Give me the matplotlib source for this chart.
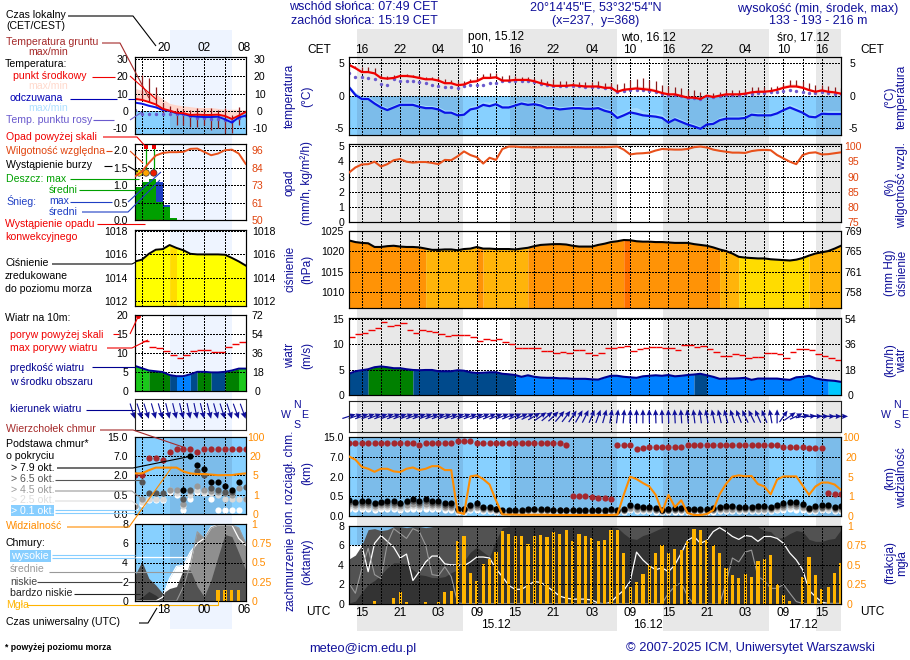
import numpy as np
import matplotlib
matplotlib.use("Agg")
import matplotlib.pyplot as plt
from matplotlib.patches import Rectangle

plt.rcParams['font.family'] = ['Liberation Sans', 'DejaVu Sans']

W, H = 910, 660
FS = 7.6
FB = 8.6
FH = 9.0
NAVY = '#10109a'
ORANGE = '#ff8c00'

# main meteogram, hourly from 14 CET
night_hours = [(1.25, 17.8), (25.15, 41.87), (49.2, 65.8), (73.1, 77)]
temp_mid = [4.7,4.2,3.6,3.6,3.4,2.7,2.6,2.7,3.0,3.0,2.9,2.7,2.5,2.5,2.3,1.9,1.9,1.6,1.7,2.1,2.2,2.7,2.7,2.8,2.3,2.3,2.4,2.4,2.4,2.2,1.9,1.7,1.5,1.5,1.5,1.6,1.5,1.4,1.4,1.4,1.2,
            1.2,0.6,0.9,1.0,1.1,1.0,0.9,0.7,0.4,0.2,0.2,-0.05,-0.3,-0.3,-0.5,0,-0.2,0,0.2,0.2,0.2,0.3,0.5,0.6,0.6,0.7,0.9,1.2,1.4,1.4,1.2,0.85,0.6,0.8,0.6,0.5,0.3]
temp_hi = [4.9,4.4,3.9,3.9,3.6,3.0,2.9,3.0,3.3,3.3,3.2,3.0,2.8,2.8,2.6,2.2,2.2,1.9,2.0,2.4,2.6,3.1,3.0,3.1,2.6,2.6,2.7,2.7,2.7,2.5,2.2,2.0,1.8,1.8,1.8,1.9,1.8,1.7,1.7,1.7,1.5,
           1.5,0.9,1.2,1.3,1.5,1.4,1.3,1.0,0.7,0.5,0.5,0.3,0,0,-0.2,0.3,0.1,0.3,0.5,0.5,0.5,0.6,0.8,0.9,0.9,1.0,1.2,1.6,1.8,1.8,1.5,1.1,0.9,1.1,0.9,0.8,0.6]
feels = [1.3,0.1,-0.5,-0.5,-1.2,-1.8,-2.2,-1.8,-1.4,-1.4,-1.4,-1.7,-1.9,-1.9,-2.1,-2.6,-2.6,-3.0,-2.9,-2.1,-1.9,-1.4,-1.6,-1.3,-1.8,-1.8,-1.5,-1.2,-1.4,-1.3,-1.5,-1.9,-1.9,-2.1,-2.0,-1.9,-1.9,-2.0,-2.0,-1.9,-2.3,
         -2.55,-3.4,-3.0,-2.55,-2.75,-3.0,-3.1,-3.2,-3.4,-4.1,-3.6,-4.0,-4.4,-4.7,-5.05,-4.4,-4.3,-3.75,-3.5,-3.5,-3.5,-3.4,-2.9,-3.0,-3.0,-3.0,-2.7,-2.2,-1.8,-2.2,-2.6,-3.2,-3.3,-2.75,-2.8,-2.8,-2.8]
feels_hi = [1.6,0.5,-0.1,-0.1,-0.8,-1.4,-1.8,-1.4,-1.0,-1.0,-1.0,-1.3,-1.5,-1.5,-1.7,-2.2,-2.2,-2.6,-2.5,-1.6,-1.4,-0.9,-1.0,-0.8,-1.4,-1.4,-1.1,-0.8,-1.0,-0.9,-1.1,-1.5,-1.5,-1.7,-1.6,-1.5,-1.5,-1.6,-1.6,-1.5,-1.9,
            -2.1,-2.9,-2.5,-1.9,-1.8,-2.3,-2.6,-2.7,-2.9,-3.7,-3.2,-3.6,-4.0,-4.3,-4.7,-4.0,-3.9,-3.3,-3.1,-3.1,-3.1,-3.0,-2.5,-2.6,-2.6,-2.6,-2.3,-1.8,-1.3,-1.7,-2.2,-2.8,-2.9,-2.3,-2.3,-2.3,-2.3]
dew = [3.45,2.9,2.8,2.7,2.6,1.8,1.7,2.5,2.3,2.3,2.2,2.1,1.9,1.7,1.5,1.3,1.3,1.2,1.4,1.6,1.7,1.7,1.9,1.9,2.2,2.2,2.3,2.3,2.3,2.1,1.8,1.6,1.4,1.4,1.4,1.5,1.4,1.3,1.3,1.3,1.1,
       1.1,0.5,0.7,0.8,0.9,0.8,0.7,0.5,0.3,0.1,0.1,-0.1,-0.3,-0.4,-0.5,-0.1,-0.2,-0.1,0.1,0.1,0.1,0.2,0.3,0.4,0.4,0.5,0.6,0.7,0.8,0.7,0.6,0.4,0.4,0.5,0.4,0.3,0.2]
soil_max = [4.9,4.5,4.4,4.3,4.2,3.2,3.0,3.2,3.3,3.3,3.2,3.1,2.9,2.9,2.8,2.6,2.4,2.2,2.2,2.6,2.8,3.3,3.5,3.5,3.0,3.1,3.0,2.9,2.9,2.7,2.6,2.3,2.5,2.2,2.2,2.1,2.1,2.1,2.1,2.2,1.9,
            2.0,1.8,2.0,2.4,2.6,2.7,2.4,2.3,1.7,1.4,1.3,1.2,0.9,0.8,0.5,0.1,0.4,0.5,0.8,0.8,0.8,1.0,1.3,1.3,1.3,1.3,1.5,2.0,2.4,2.4,2.2,1.9,1.7,1.7,1.5,1.3,1.1]
humidity = [91.3,93,94,94.1,94.9,93.3,94.1,95.4,95.8,94.9,94.6,94.8,94.8,94.5,94.1,95.5,95.4,96.7,98.3,97.1,96.4,94.3,96.2,95.5,99.1,99.9,99.9,99.7,99.7,99.6,99.7,99.7,99.7,99.7,99.7,99.7,99.7,99.7,99.7,99.7,99.7,
            99.8,99.9,98.9,97.3,97.6,97.7,97.9,98.6,99.1,99,98.9,98.9,99.1,99.7,99.9,99.6,98.9,98.5,98.2,97.9,97.9,97.8,98.4,98.7,98.8,98.7,97.1,96,94.9,94.1,97.1,97.8,98,97.3,97.4,97.7,98]
pressure = [1022.6,1022.2,1022.0,1021.9,1021.0,1021.0,1021.2,1021.3,1021.1,1021.0,1021.0,1020.9,1020.6,1020.3,1020.3,1020.4,1020.4,1020.2,1020.5,1020.6,1021.0,1020.6,1020.6,1020.5,1020.5,1020.5,1020.4,1020.6,1020.8,1021.2,1021.5,1021.6,1021.7,1021.7,1021.6,1021.3,1021.1,1021.1,1021.1,1021.5,1021.8,
            1022.2,1022.4,1022.7,1022.65,1022.4,1022.3,1022.3,1022.2,1022.2,1022.1,1022,1022,1022,1021.7,1021.5,1021.3,1020.9,1020.4,1020,1019.4,1018.6,1018.4,1018.3,1018.2,1018.2,1018,1017.9,1017.8,1017.7,1017.9,1018.3,1018.9,1019.4,1019.7,1020,1020.6,1021.3]
wind = [4.2,4.7,4.9,5.1,5.5,5.65,5.5,5.3,5.3,5.1,4.95,4.9,4.95,4.95,4.7,4.7,4.7,4.9,4.8,4.5,4.35,4.4,4.5,4.5,4.2,4.1,3.95,3.6,3.9,3.6,3.45,3.4,3.4,3.3,3.3,3.2,3.2,3.2,3.1,3.05,3.45,
        3.8,3.8,3.6,3.5,3.4,3.7,3.8,3.9,3.8,3.95,3.7,3.8,3.95,4.05,4.2,3.9,3.6,3.2,3.25,3.25,3.3,3.4,3.0,3.25,3.25,3.25,3.25,3.1,3.0,3.5,3.6,3.8,3.3,3.05,2.9,2.8,2.6]
gust = [11.4,12,12.2,12.9,13.2,14.4,13.6,13.9,14.2,12.8,12.2,12.9,12.7,12.4,12.1,11.6,11.8,11.9,11.9,11.4,10.7,11,10.8,11,10.4,10,9.4,9.4,9.3,9.3,8.7,8.7,8.25,8.5,8.3,8.9,8.9,8.4,8,8.4,9.3,
        9.35,9.5,9.75,8.7,9.1,9.35,9.5,9.5,9.3,9.3,8.9,9.9,9.9,9.5,9.75,9.1,8.6,7.65,7.8,8.2,8,7.3,7.5,7.55,8.4,8.4,8.2,7.35,8.5,9.1,9.1,9,8.1,7.7,7.3,7,6.9]
wind_dir = [18,18,20,20,20,20,20,20,20,20,20,20,20,20,20,20,20,20,20,20,20,22,22,22,22,22,24,24,26,30,35,40,44,50,53,56,60,64,67,70,74,
            80,83,85,88,90,90,91,92,92,92,93,94,95,97,98,100,102,104,105,108,112,115,116,114,112,100,90,55,35,25,12,5,2,0,0,0,0]
cloud_top = [12.6,12.6,12.6,12.6,12.6,12.6,12.6,12.6,12.6,12.6,12.6,11.9,12.6,12.6,12.6,12.6,12.6,13.3,13.3,13.3,12.6,12.6,12.6,12.6,12.6,12.6,12.6,12.6,12.6,12.6,12.6,12.6,12.6,12.6,12.0,0.55,0.52,0.50,0.49,0.47,0.45,
             0.44,11.8,11.8,11.8,10.3,10.7,11.1,11.1,11.1,11,11,11,11.8,11.8,11.8,11.8,11.8,11.8,11.8,11.8,11.8,11.8,11.8,11.8,11.8,11.8,11.8,11.1,11.1,11.1,11.1,10.7,10.7,10.7,0.72,0.71,0.69]
base_79 = [.40,.36,.38,.38,.34,.36,.38,.38,.34,.39,.42,.39,.42,.38,.38,.32,.32,.19,.19,.28,.32,.24,.22,.19,.14,.14,.14,.14,.17,.19,.17,.17,.15,.15,.15,.15,.14,.14,.14,.15,.14,
           .17,.14,.17,.28,.25,.24,.22,.20,.15,.17,.20,.20,.17,.17,.17,.17,.20,.22,.25,.25,.24,.22,.24,.25,.25,.22,.29,.32,.36,.35,.31,.21,.25,.27,.29,.22,.25]
base_65 = [.36,.32,.34,.34,.30,.32,.34,.34,.30,.35,.37,.34,.37,.34,.34,.29,.29,.17,.17,.25,.28,.21,.20,.17,.13,.13,.13,.13,.15,.17,.15,.15,.14,.14,.14,.14,.13,.13,.13,.14,.13,
           .15,.13,.15,.25,.22,.21,.20,.18,.14,.15,.18,.18,.15,.15,.15,.15,.18,.20,.22,.22,.21,.20,.21,.22,.22,.20,.26,.28,.32,.31,.27,.19,.22,.24,.26,.20,.22]
base_45 = [.30,.27,.28,.28,.25,.27,.28,.28,.25,.29,.31,.29,.31,.28,.28,.24,.24,.15,.15,.21,.24,.18,.17,.15,.12,.12,.12,.12,.14,.15,.14,.14,.13,.13,.13,.13,.12,.12,.12,.13,.12,
           .14,.12,.14,.21,.19,.18,.17,.16,.13,.14,.16,.16,.14,.14,.14,.14,.16,.17,.19,.19,.18,.17,.18,.19,.19,.17,.22,.24,.27,.26,.23,.17,.19,.21,.22,.17,.19]
base_25 = [.25,.23,.24,.24,.21,.23,.24,.24,.21,.24,.26,.24,.26,.24,.24,.20,.20,.13,.13,.18,.20,.16,.15,.13,.11,.11,.11,.11,.12,.13,.12,.12,.12,.12,.12,.12,.11,.11,.11,.12,.11,
           .12,.11,.12,.18,.16,.16,.15,.14,.12,.12,.14,.14,.12,.12,.12,.12,.14,.15,.16,.16,.16,.15,.16,.16,.16,.15,.19,.20,.23,.22,.20,.15,.16,.18,.19,.15,.16]
base_01 = [.18,.17,.17,.17,.16,.17,.17,.17,.16,.18,.19,.18,.19,.17,.17,.15,.15,.11,.11,.14,.15,.12,.12,.11,.10,.10,.10,.10,.11,.11,.11,.11,.10,.10,.10,.10,.10,.10,.10,.10,.10,
           .11,.10,.11,.14,.13,.12,.12,.11,.10,.11,.11,.11,.11,.11,.11,.11,.11,.12,.13,.13,.12,.12,.12,.13,.13,.12,.14,.15,.17,.16,.15,.12,.13,.14,.14,.12,.13]
visibility = [22,18,12.5,11,8.7,11,11,9,8.5,11,12,10,11,13,13,10,10,.2,.1,5.2,6,4.5,3.4,.8,.08,.07,.07,.06,.06,.06,.06,.06,.05,.05,.05,.05,.05,.05,.05,.05,.05,
              .05,.07,1.3,5,4.5,3.7,3,1.3,.2,1.3,.45,.8,.15,.05,.05,.1,.3,1.4,3.5,5,6,5.3,5.5,3.5,3,1.4,4.4,5.2,5.2,5.2,3.2,1.3,3,3.8,3.8,3.4,2.3]
cloud_high = [6,5.9,6,3.3,6.2,7,6.4,5.8,4.7,5.1,2.4,3.3,4.3,4.9,4.9,4.1,4,4,3.9,4.3,4.8,4.8,4.7,3.6,2.8,1.9,1.5,1.5,1.9,2.3,2.2,1.8,1.3,.8,.6,.5,.5,.5,.4,.1,0,
              .2,.85,1.4,2.3,5.3,4.5,3.9,3.5,3.7,3.3,4,5.2,6.5,6.9,6.2,6.5,7.4,7.8,7.4,6.9,6.6,7,6.9,6.4,6.9,6.9,6.7,6.2,5.2,4.5,3.5,1.4,.75,.2,.05,.05,.05]
cloud_mid = [2.1,1.1,3.6,5.7,3,2.6,6.2,7.7,7.2,6.7,7.7,7.4,6,3,2.9,3.8,2.8,.1,.05,
             .05,.05,.05,.05,.05,.05,.05,.05,.05,.05,.05,.05,.05,.05,.05,.05,.05,.05,.05,.05,.05,.05,.05,.05,.05,.05,.05,.05,.05,.05,.05,
             1.1,1.8,2.2,.75,0,0,0,0,0,2.1,4.7,4.3,5.3,5.5,2.8,2.4,1.6,1.6,2,1.1,.25,.05,.05,.05,.05,.05,.05,.05]
cloud_low = [4.6,5,6,7.6,7.7,7.5,7.6,7.9,7.9,7.8,7.9,7.9,7.8,7.9,
             8,8,8,8,8,8,8,8,8,8,8,8,8,8,8,8,8,8,8,8,8,8,8,8,8,8,8,8,8,8,8,8,8,8,8,8,8,8,8,8,8,8,8,8,8,8,8,8,8,8,8,8,8,8,8,8,8,8,8,8,8,8,8,8]
cloud_vlow = [.1,.3,1.2,2,2.4,3,3.7,4.2,4.2,4.1,3.5,3,2.9,2.7,2.7,2.8,3.2,3.5,4.4,5.3,5.8,5.3,4.8,6.5,7.8,7.9,
              7.9,7.9,7.9,7.9,7.9,7.9,7.9,7.9,7.9,7.9,7.9,7.9,7.9,7.9,7.9,
              7.9,7.8,7.2,6.7,6.6,7,7.2,7.5,7.8,7.9,
              7.9,7.9,7.9,7.9,7.9,7.9,7.9,7.9,7.9,7.9,7.9,7.9,7.9,7.9,
              7.5,7.4,6.7,6.8,7.2,7.5,7.4,6.6,6.4,6.4,6.6,6.7,7.6]
fog = [0,0,0,0,.04,0,0,.08,.15,.02,0,0,.02,0,.03,.15,.17,.8,.87,.4,.29,.51,.57,.67,.93,.9,.87,.87,.76,.87,.88,.86,.92,.9,.94,.81,.9,.87,.84,.81,.82,
       .95,.94,.65,.22,.28,.38,.5,.65,.75,.65,.7,.69,.8,.96,.95,.82,.75,.65,.46,.37,.33,.38,.34,.55,.57,.62,.25,.12,.04,0,.34,.6,.37,.19,.22,.4,.53]

# small panel, hourly from 16 CET
s_night = [(5.07, 14.0)]
s_temp = [7,6.4,5.2,3.8,1.3,.2,-1,-1.3,-2.3,-2.1,-2.3,-2.3,-2.1,-2.9,-4.6,-2.7,-.6]
s_temp_hi = [13,12,11,10,7,4.4,3.5,3,2.5,2,2,2,1.5,1,1,1,.6]
s_feels = [4.8,4.2,3,2.1,.6,0,-1.3,-1.7,-2.9,-3.3,-3.5,-3.5,-3.3,-4.8,-6.7,-3.7,-2.7]
s_feels_hi = [5.5,5,4,3,1.5,.5,-.6,-1,-2,-2.4,-2.6,-2.6,-2.3,-3.8,-5.5,-2.8,-1.8]
s_dew = [.5,-1.5,-1.5,-1.5,-1.5,-1.5,-2,-2,-3,-4,-4,-4.5,-4.5,-5,-6,-4,-3]
s_soil_max = [7.5,20.7,18.8,13.6,4.4,2.9,2,1,.5,1.5,1,1.5,.5,1.5,-2.5,2.5,.5]
s_soil_min = [6,7,5,3,-1,-1,-8,-8,-9,-9,-8,-11,-10,-13,-13,-8,-3]
s_humidity = [78.7,82,87.6,92.5,94.2,94.7,94.7,94.9,96.9,97.1,94.9,92.7,93.8,96,96.4,93.8,87]
s_rain = [.96,1.1,1.18,.53,.38,.07,0,0,0,0,0,0,0,0,0,0]
s_snow = [0,0,0,1.1,.43,0,0,0,0,0,0,0,0,0,0,0]
s_storm_t = [.6,1.6,2.7]
s_storm_c = ['#ffee00', '#ffa500', '#ee1c00']
s_over_t = [1.6,2.7]
s_pressure = [1015.4,1015.55,1016.05,1016.4,1016.45,1016.8,1016.55,1016.35,1016.05,1016,1016,1016,1016,1015.97,1015.7,1015.4,1015.05]
s_wind = [6.6,6,5.4,5.2,5,4.2,3.9,3.9,4.4,5.05,5.05,4.9,4.9,5.05,5.4,5.9,5.9]
s_gust = [np.nan,13.2,11.5,11.2,10.4,9.5,8.6,9.6,10.4,10.7,10.7,10.3,10.3,11.5,12.5,12.8,12.8]
s_dir = [-72,-72,-72,-74,-74,-76,-76,-76,-78,-78,-76,-76,-74,-72,-72,-70,-70]
s_top = [2,2,6.4,6.4,5.9,8.8,9.8,9.8,9.8,8.8,9.8,9.8,9.8,9.8,9.8,9.8,9.8]
s_b79 = [np.nan,np.nan,np.nan,np.nan,np.nan,np.nan,np.nan,.9,7,4.8,3.7,1.5,1.5,1.2,.9,1.5,np.nan]
s_b65 = [np.nan,1.5,.65,.65,.65,np.nan,np.nan,.4,.9,3.2,2.2,1.0,.9,.7,.7,np.nan,1.1]
s_b45 = [.2,.4,np.nan,np.nan,np.nan,.9,.9,.25,.8,1.2,.9,.8,.7,.6,.5,1,.4]
s_b25 = [.2,.3,.4,.4,.4,.9,.6,.2,.5,.9,.7,.6,.5,.4,.4,.4,.4]
s_b01 = [.15,.25,.35,.35,.35,.7,.5,.1,.4,.7,.6,.4,.1,.1,.1,.1,np.nan]
s_vis = [6.5,6.5,9,11,11,11,11,8,6.5,6,6,5.6,5.1,5.2,5.2,6,6.5]
s_high = [0,0,0,0,.4,2.35,3.6,3.7,5.1,6,6.5,7.7,7.9,7.9,7.9,6.5,5.8]
s_mid = [0,0,0,0,0,0,0,1.5,3.8,7.2,6.5,7.6,7.9,7.9,7.9,7.6,6]
s_low = [2.7,4.1,2.35,1.66,.8,1.3,1.5,3.3,3.2,1.5,.45,2.2,4.6,6.9,6.7,5,3.2]
s_vlow = [.1,.4,1,.6,0,0,0,0,0,0,0,0,0,0,0,0,0]
s_fog = [0,0,0,0,0,0,0,0,0,0,0,0,.14,.14,.14,.14,0]

hour_labels_cet = ['16','22','04','10','16','22','04','10','16','22','04','10','16']
hour_labels_utc = ['15','21','03','09','15','21','03','09','15','21','03','09','15']

pressure_levels = [1016.6, 1018.7, 1020.7, 1022.68]
pressure_colors = ['#ffff00', '#ffdc00', '#ffb40a', '#ff9306', '#ff7000']
wind_levels = [3.0, 4.0, 5.0, 5.9]
wind_colors = ['#00c8ff', '#0080ff', '#004a8c', '#008000', '#1ac81a']

fig = plt.figure(figsize=(W / 100, H / 100), dpi=100)


def px_axes(x0, y0, x1, y1, **kw):
    return fig.add_axes([x0 / W, 1 - y1 / H, (x1 - x0) / W, (y1 - y0) / H], facecolor='none', **kw)


def setup_panel(ax, n, ylim, yticks, ylabels, major, minor, ypad=7):
    ax.set_xlim(0, n)
    ax.set_ylim(*ylim)
    ax.set_xticks(major)
    ax.set_xticks(minor, minor=True)
    ax.set_xticklabels([])
    ax.set_yticks(yticks)
    ax.set_yticklabels(ylabels, fontsize=FS)
    ax.tick_params(which='both', length=0)
    ax.tick_params(axis='y', pad=ypad * 0.72)
    ax.grid(True, axis='x', which='both', color='black', lw=0.72, ls=(0, (2, 2)), zorder=2, antialiased=False)
    ax.grid(True, axis='y', which='major', color='black', lw=0.72, ls=(0, (2, 2)), zorder=2, antialiased=False)
    ax.set_axisbelow(False)
    for sp in ax.spines.values():
        sp.set_linewidth(0.8)
        sp.set_color('#222222')
        sp.set_zorder(6)


def right_scale(ax, ticks, labels, color='black', pad=5, ha='left', ylim=None):
    tw = ax.twinx()
    tw.set_ylim(*(ylim if ylim else ax.get_ylim()))
    tw.set_yticks(ticks)
    tw.set_yticklabels(labels, color=color, fontsize=FS, ha=ha)
    tw.tick_params(length=0, pad=pad * 0.72)
    return tw


def paint_sky(ax, t, nights, y0, y1):
    ax.fill_between([t[0], t[-1]], y0, y1, color='#87d0ff', lw=0, zorder=0.5)
    for a, b in nights:
        ax.fill_between([a, b], y0, y1, color='#7cbcea', lw=0, zorder=0.6)


def step_fill(ax, t, vals, bottom, levels, colors):
    # one polygon per run of equal colour, so no seams between hours
    idx = np.digitize(vals, levels)
    start = 0
    for i in range(1, len(t)):
        if i == len(t) - 1 or idx[i] != idx[start]:
            ax.fill_between(t[start:i + 1], vals[start:i + 1], bottom, color=colors[idx[start]],
                            lw=0, antialiased=False, zorder=1)
            start = i


def plot_temp(ax, t, nights, mid, hi, fl, fl_hi, dw, soil_lo, soil_hi, lw=1.6):
    paint_sky(ax, t, nights, ax.get_ylim()[0], 0)
    ax.fill_between(t, mid, hi, color='#ffd6cc', lw=0, zorder=1)
    ax.fill_between(t, fl, fl_hi, color='#a4dcff', lw=0, zorder=1)
    ax.vlines(t, soil_lo, soil_hi, color='#8b1a1a', lw=0.9, zorder=3)
    ax.scatter(t, dw, s=6, color='#6a5acd', marker='o', lw=0, zorder=3)
    ax.plot(t, fl, color='#0a14e6', lw=lw, zorder=4)
    ax.plot(t, mid, color='#f00000', lw=lw, zorder=4)


km_fwd = lambda v: np.interp(v, [0, .5, 2, 7, 15], [0, 1, 2, 3, 4])
km_inv = lambda v: np.interp(v, [0, 1, 2, 3, 4], [0, .5, 2, 7, 15])
vis_fwd = lambda v: np.interp(v, [0, 1, 5, 20, 100], [0, 1, 2, 3, 4])
vis_inv = lambda v: np.interp(v, [0, 1, 2, 3, 4], [0, 1, 5, 20, 100])


def plot_base(ax, t, nights, top, b79, b65, b45, b25, b01, vis, size):
    ax.set_yscale('function', functions=(km_fwd, km_inv))
    ax.set_ylim(0, 15)
    ax.set_yticks([0, .5, 2, 7, 15])
    ax.set_yticklabels(['0.0', '0.5', '2.0', '7.0', '15.0'], fontsize=FS)
    ax.grid(False, axis='y', which='minor')
    paint_sky(ax, t, nights, 0, 15)
    ax.scatter(t, top, s=size, color='#a5282e', lw=0, zorder=3)
    for vals, c in zip([b01, b25, b45, b65, b79], ['white', '#d8d8d8', '#999999', '#555555', 'black']):
        ax.scatter(t, vals, s=size, color=c, lw=0, zorder=3)
    tw = ax.twinx()
    tw.set_yscale('function', functions=(vis_fwd, vis_inv))
    tw.set_ylim(0, 100)
    tw.set_yticks([0, 1, 5, 20, 100])
    tw.set_yticklabels(['0', '1', '5', '20', '100'], color=ORANGE, fontsize=FS, ha='center')
    tw.tick_params(length=0, pad=10 * 0.72)
    tw.plot(t, vis, color=ORANGE, lw=1.5, zorder=4)


def plot_clouds(ax, t, nights, high, mid, low, vlow, fg, bar_w):
    paint_sky(ax, t, nights, 0, 8)
    for vals, c in zip([high, mid, low, vlow], ['white', '#8f8f8f', '#525252', '#333333']):
        ax.fill_between(t, vals, 0, color=c, lw=0, zorder=1)
    ax.plot(t, high, color='white', lw=0.9, zorder=1.5)
    ax.plot(t, mid, color='#999999', lw=0.8, zorder=1.5)
    ax.bar(t, np.array(fg) * 8, width=bar_w, color='#ffb400', zorder=1.8)


# ---- night bands behind the panels
bg = px_axes(349, 29, 841, 631)
bg.set_xlim(0, 77)
bg.axis('off')
for a, b in night_hours:
    bg.axvspan(a, b, color='#e8e8e8', lw=0)
bg2 = px_axes(135, 30, 245.7, 629)
bg2.set_xlim(0, 16)
bg2.axis('off')
for a, b in s_night:
    bg2.axvspan(a, b, color='#eef4ff', lw=0)

# ---- main column
t = np.arange(78)
mj = np.arange(2, 78, 6)
mn = np.arange(5, 78, 6)
mx = (349, 841)

ax = px_axes(mx[0], 57, mx[1], 135)
setup_panel(ax, 77, (-6, 5.9), [-5, 0, 5], ['-5', '0', '5'], mj, mn, ypad=5)
plot_temp(ax, t, night_hours, temp_mid, temp_hi, feels, feels_hi, dew, temp_mid, soil_max)
ax.xaxis.tick_top()
ax.set_xticklabels(hour_labels_cet, fontsize=FB)
ax.tick_params(axis='x', which='major', pad=0.5)
right_scale(ax, [-5, 0, 5], ['-5', '0', '5'], pad=12, ha='center')

ax = px_axes(mx[0], 144, mx[1], 222)
setup_panel(ax, 77, (0, 5.15), range(6), ['0', '1', '2', '3', '4', '5'], mj, mn, ypad=5)
tw = right_scale(ax, [75, 80, 85, 90, 95, 100], ['75', '80', '85', '90', '95', '100'],
                 color='#e0440e', pad=12, ha='center', ylim=(75, 100.75))
tw.plot(t, humidity, color='#e8501a', lw=1.5, zorder=4)

ax = px_axes(mx[0], 230.6, mx[1], 308)
setup_panel(ax, 77, (1006.1, 1025), [1010, 1015, 1020, 1025], ['1010', '1015', '1020', '1025'], mj, mn, ypad=5)
step_fill(ax, t, pressure, 1006.1, pressure_levels, pressure_colors)
ax.plot(t, pressure, color='black', lw=1.5, zorder=4)
right_scale(ax, [1010, 1015, 1020, 1025], ['758', '761', '765', '769'], pad=12, ha='center')

ax = px_axes(mx[0], 317.7, mx[1], 395)
setup_panel(ax, 77, (0, 15.3), [0, 5, 10, 15], ['0', '5', '10', '15'], mj, mn, ypad=5)
step_fill(ax, t, wind, 0, wind_levels, wind_colors)
ax.plot(t, wind, color='#000090', lw=1.5, zorder=4)
ax.hlines(gust, t, t + 1, color='#f00000', lw=1, zorder=4)
right_scale(ax, [0, 5, 10, 15], ['0', '18', '36', '54'], pad=9, ha='center')

ax = px_axes(mx[0], 401, mx[1], 431.7)
setup_panel(ax, 77, (0, 1), [], [], mj, mn)
ang = np.deg2rad(wind_dir)
q = ax.quiver(t, np.full(78, 0.5), 14 * np.cos(ang), 14 * np.sin(ang), angles='uv', scale=1, scale_units='dots',
              pivot='mid', units='dots', width=1.2, headwidth=4.5, headlength=5, headaxislength=4.5,
              color='#10109a', zorder=4)
q.set_clip_on(False)

ax = px_axes(mx[0], 437.3, mx[1], 516)
setup_panel(ax, 77, (0, 15), [], [], mj, mn, ypad=5)
plot_base(ax, t, night_hours, cloud_top, base_79, base_65, base_45, base_25, base_01, visibility, 20)

ax = px_axes(mx[0], 525.7, mx[1], 604)
setup_panel(ax, 77, (0, 8), [0, 2, 4, 6, 8], ['0', '2', '4', '6', '8'], mj, mn, ypad=5)
plot_clouds(ax, t, night_hours, cloud_high, cloud_mid, cloud_low, cloud_vlow, fog, 0.5)
ax.set_xticklabels(hour_labels_utc, fontsize=FB)
ax.tick_params(axis='x', which='major', pad=2)
right_scale(ax, [0, 2, 4, 6, 8], ['0', '0.25', '0.5', '0.75', '1'], color=ORANGE, pad=6)

# ---- small column
st = np.arange(17)
smj = [1, 4, 7, 10, 13, 16]
sx = (135, 245.7)
smn = []

ax = px_axes(sx[0], 57, sx[1], 134)
setup_panel(ax, 16, (-13.3, 31.2), [-10, 0, 10, 20, 30], ['-10', '0', '10', '20', '30'], smj, smn)
plot_temp(ax, st, s_night, s_temp, s_temp_hi, s_feels, s_feels_hi, s_dew, s_soil_min, s_soil_max, lw=1.4)
right_scale(ax, [-10, 0, 10, 20, 30], ['-10', '0', '10', '20', '30'], pad=14, ha='center')

ax = px_axes(sx[0], 144, sx[1], 220)
setup_panel(ax, 16, (0, 2.18), [0, .5, 1, 1.5, 2], ['0.0', '0.5', '1.0', '1.5', '2.0'], smj, smn)
ax.bar(st[:-1], s_snow, width=1, align='edge', color='#1f3fc4', zorder=1)
ax.bar(st[:-1], s_rain, width=1, align='edge', color='#00a000', zorder=1.2)
ax.vlines(s_over_t, 1.35, 2.1, color='#00a000', lw=0.9, zorder=3)
ax.scatter(s_storm_t, [1.35, 1.35, 1.35], s=22, color=s_storm_c, edgecolor='#333333', lw=0.5, zorder=4)
ax.scatter(s_over_t, [2.1, 2.1], s=9, marker='s', color='#ee0000', lw=0, zorder=4)
ax.hlines([0.01], 0.2, 4.2, color='#ee0000', lw=1, ls=(0, (2, 2)), zorder=3)
tw = right_scale(ax, [50, 61.5, 73, 84.5, 96], ['50', '61', '73', '84', '96'], color='#e0440e',
                 pad=12, ha='center', ylim=(50, 100.1))
tw.plot(st, s_humidity, color='#e8501a', lw=1.4, zorder=4)

ax = px_axes(sx[0], 230, sx[1], 306)
setup_panel(ax, 16, (1011.6, 1018.08), [1012, 1014, 1016, 1018], ['1012', '1014', '1016', '1018'], smj, smn)
step_fill(ax, st, s_pressure, 1011.6, pressure_levels, pressure_colors)
ax.plot(st, s_pressure, color='black', lw=1.4, zorder=4)
right_scale(ax, [1012, 1014, 1016, 1018], ['1012', '1014', '1016', '1018'], pad=18, ha='center')

ax = px_axes(sx[0], 315, sx[1], 391)
setup_panel(ax, 16, (0, 20), [0, 5, 10, 15, 20], ['0', '5', '10', '15', '20'], smj, smn)
step_fill(ax, st, s_wind, 0, wind_levels, wind_colors)
ax.plot(st, s_wind, color='#000090', lw=1.4, zorder=4)
ax.hlines(s_gust, st, st + 1, color='#f00000', lw=1, zorder=4)
ax.plot([0.5], [19.7], 'o', ms=2.5, color='#f00000', zorder=4)
right_scale(ax, [0, 5, 10, 15, 20], ['0', '18', '36', '54', '72'], pad=12, ha='center')

ax = px_axes(sx[0], 398.7, sx[1], 430)
setup_panel(ax, 16, (0, 1), [], [], smj, smn)
ang = np.deg2rad(s_dir)
q = ax.quiver(st, np.full(17, 0.36), 16 * np.cos(ang), 16 * np.sin(ang), angles='uv', scale=1, scale_units='dots',
              pivot='tip', units='dots', width=1.1, headwidth=5.5, headlength=6, headaxislength=5.5,
              color='#10109a', zorder=4)
q.set_clip_on(False)

ax = px_axes(sx[0], 436.7, sx[1], 514)
setup_panel(ax, 16, (0, 15), [], [], smj, smn)
plot_base(ax, st, s_night, s_top, s_b79, s_b65, s_b45, s_b25, s_b01, s_vis, 20)

ax = px_axes(sx[0], 524, sx[1], 601)
setup_panel(ax, 16, (0, 8), [0, 2, 4, 6, 8], ['0', '2', '4', '6', '8'], smj, smn)
plot_clouds(ax, st, s_night, s_high, s_mid, s_low, s_vlow, s_fog, 0.45)
right_scale(ax, [0, 2, 4, 6, 8], ['0', '0.25', '0.5', '0.75', '1'], color=ORANGE, pad=6)

# ---- texts and leader lines, pixel coordinates
ov = fig.add_axes([0, 0, 1, 1], facecolor='none', zorder=20)
ov.set_xlim(0, W)
ov.set_ylim(H, 0)
ov.axis('off')


def txt(x, y, s, c='black', size=FS, ha='left', **kw):
    ov.text(x, y, s, color=c, fontsize=size, ha=ha, va='center', **kw)


def vtxt(x, y, s, c=NAVY):
    ov.text(x, y, s, color=c, fontsize=FB, ha='center', va='center', rotation=90)


def lead(xs, ys, c='black', lw=0.8):
    ov.plot(xs, ys, color=c, lw=lw, solid_capstyle='butt')


BROWN = '#a52a2a'
RED = '#f00000'
DRED = '#e0440e'
GRN = '#00a000'
SBLUE = '#1f3fc4'
SKY = '#87ceff'
SLATE = '#6a5acd'
DBLUE = '#0000b4'

txt(6, 15, 'Czas lokalny'); txt(6, 26, '(CET/CEST)')
txt(6, 42, 'Temperatura gruntu', BROWN); txt(28, 52, 'max/min', BROWN)
txt(5, 64, 'Temperatura:'); txt(13, 76, 'punkt środkowy', RED)
txt(28, 86, 'max/min', '#ffd9cc'); txt(10, 98, 'odczuwana', DBLUE)
txt(28, 108, 'max/min', '#aee0ff'); txt(6, 120, 'Temp. punktu rosy', SLATE)
txt(6, 137, 'Opad powyżej skali', RED); txt(6, 151, 'Wilgotność względna', DRED)
txt(6, 165, 'Wystąpienie burzy'); txt(6, 179, 'Deszcz: max', GRN); txt(49, 190, 'średni', GRN)
txt(6, 201, 'Śnieg:', SBLUE); txt(49, 201, 'max', SBLUE); txt(49, 212, 'średni', SBLUE)
txt(5, 224, 'Wystąpienie opadu', RED); txt(5, 237, 'konwekcyjnego', RED)
txt(5, 263, 'Ciśnienie'); txt(5, 276, 'zredukowane'); txt(5, 289, 'do poziomu morza')
txt(5, 318, 'Wiatr na 10m:')
txt(10, 335, 'poryw powyżej skali', RED); txt(10, 348, 'max porywy wiatru', RED)
txt(10, 368, 'prędkość wiatru', '#000090'); txt(10, 382, 'w środku obszaru', '#000090')
txt(10, 409, 'kierunek wiatru', '#000090'); txt(6, 429, 'Wierzchołek chmur', BROWN)
txt(6, 444, 'Podstawa chmur*'); txt(6, 456, 'o pokryciu'); txt(11, 468, '> 7.9 okt.')
txt(11, 479, '> 6.5 okt.', '#555555'); txt(11, 490, '> 4.5 okt.', '#999999')
txt(11, 500, '> 2.5 okt.', '#dddddd')
ov.add_patch(Rectangle((11, 505), 43, 11, color=SKY, lw=0))
txt(11, 511, '> 0.1 okt.', 'white')
txt(6, 526, 'Widzialność', ORANGE); txt(6, 543, 'Chmury:')
ov.add_patch(Rectangle((10, 550), 41, 12, color=SKY, lw=0))
txt(11, 556, 'wysokie', 'white'); txt(10, 569, 'średnie', '#999999')
txt(10, 582, 'niskie', '#444444'); txt(10, 593, 'bardzo niskie', '#222222')
txt(6, 605, 'Mgła', '#ffb400'); txt(6, 622, 'Czas uniwersalny (UTC)')
txt(5, 648, '* powyżej poziomu morza', size=6.2, fontweight='bold')

lead([68, 133, 156], [16, 16, 46])
lead([102, 120, 149], [43, 43, 98], BROWN)
lead([92, 115], [77, 77], RED); lead([130, 157], [76, 100], RED)
lead([70, 117], [99, 99], DBLUE); lead([128, 135], [99, 99], DBLUE)
lead([93, 114], [120, 120], SLATE); lead([130, 142], [120, 112], SLATE)
lead([103, 137, 146], [137, 137, 147], RED)
lead([106, 112], [151, 151], DRED); lead([130, 143], [151, 163], DRED)
lead([104, 112], [166, 166]); lead([128, 138], [166, 172])
lead([70, 139], [179, 179], GRN); lead([79, 143], [190, 190], GRN)
lead([70, 112], [202, 202], SBLUE); lead([128, 161], [202, 172], SBLUE)
lead([82, 128, 160], [212, 212, 180], SBLUE)
lead([97, 145], [224, 224], RED)
lead([52, 132, 136], [264, 264, 262])
lead([113, 119], [334, 334], RED); lead([130, 138], [334, 317], RED)
lead([107, 132, 148], [348, 348, 340], RED)
lead([92, 135], [367, 367], '#000090')
lead([86, 135], [410, 410], '#000090')
lead([100, 133, 183], [430, 430, 447], BROWN)
lead([57, 133, 192], [468, 468, 456])
lead([55, 143], [480, 480], '#555555')
lead([55, 132, 143], [491, 491, 500], '#999999')
lead([55, 132, 137], [501, 501, 505], '#dddddd')
lead([55, 137], [510, 510], SKY); lead([55, 137], [512.5, 512.5], SKY)
lead([67, 129, 172], [527, 527, 467], ORANGE)
lead([52, 135], [555, 555], SKY); lead([52, 135], [558, 558], SKY); lead([135, 188], [556.5, 556.5], 'white', 0.9)
lead([49, 192], [572, 572], '#999999')
lead([37, 122], [582, 582], '#444444'); lead([128, 135], [582, 582], '#444444')
lead([74, 140], [594, 594], '#222222')
lead([27, 218, 218], [605, 605, 600], '#ffb400')
lead([139, 148, 157], [623, 623, 608])

for x, s in zip([164, 204, 244], ['20', '02', '08']):
    txt(x, 48, s, size=FB, ha='center')
for x, s in zip([164, 204, 244], ['18', '00', '06']):
    txt(x, 610, s, size=FB, ha='center')

txt(364, 7, 'wschód słońca: 07:49 CET', NAVY, FH, 'center')
txt(364, 21, 'zachód słońca: 15:19 CET', NAVY, FH, 'center')
txt(596, 8, '20°14\'45"E, 53°32\'54"N', NAVY, FH, 'center')
txt(596, 21, '(x=237,  y=368)', NAVY, FH, 'center')
txt(818, 9, 'wysokość (min, środek, max)', NAVY, FH, 'center')
txt(818, 21, '133 - 193 - 216 m', NAVY, FH, 'center')
txt(496, 37, 'pon, 15.12', size=FB, ha='center')
txt(648, 37, 'wto, 16.12', size=FB, ha='center')
txt(803, 37, 'śro, 17.12', size=FB, ha='center')
txt(319, 50, 'CET', size=FB, ha='center'); txt(872, 50, 'CET', size=FB, ha='center')
txt(318, 612, 'UTC', size=FB, ha='center'); txt(872, 612, 'UTC', size=FB, ha='center')
txt(496, 625, '15.12', size=FB, ha='center')
txt(648, 625, '16.12', size=FB, ha='center')
txt(803, 625, '17.12', size=FB, ha='center')
txt(363, 649, 'meteo@icm.edu.pl', NAVY, 9.3, 'center')
txt(750, 648, '© 2007-2025 ICM, Uniwersytet Warszawski', NAVY, 9.3, 'center')

vtxt(290, 96, 'temperatura'); vtxt(307, 96, '(°C)')
vtxt(890, 97, '(°C)'); vtxt(902, 97, 'temperatura')
vtxt(290, 183, 'opad'); vtxt(307, 183, '(mm/h, kg/m²/h)')
vtxt(890, 187, '(%)'); vtxt(902, 185, 'wilgotność wzgl.')
vtxt(290, 269, 'ciśnienie'); vtxt(307, 269, '(hPa)')
vtxt(890, 273, '(mm Hg)'); vtxt(902, 273, 'ciśnienie')
vtxt(290, 355, 'wiatr'); vtxt(307, 355, '(m/s)')
vtxt(890, 360, '(km/h)'); vtxt(902, 360, 'wiatr')
vtxt(290, 482, 'pion. rozciągł. chm.'); vtxt(307, 473, '(km)')
vtxt(890, 478, '(km)'); vtxt(902, 478, 'widzialność')
vtxt(290, 574, 'zachmurzenie'); vtxt(307, 562, '(oktanty)')
vtxt(890, 562, '(frakcja)'); vtxt(902, 563, 'mgła')
for dx in (0, 600):
    txt(286 + dx, 415, 'W', NAVY, FS, 'center'); txt(297 + dx, 405, 'N', NAVY, FS, 'center')
    txt(305 + dx, 415, 'E', NAVY, FS, 'center'); txt(297 + dx, 425, 'S', NAVY, FS, 'center')

fig.savefig('out.png', dpi=100)
